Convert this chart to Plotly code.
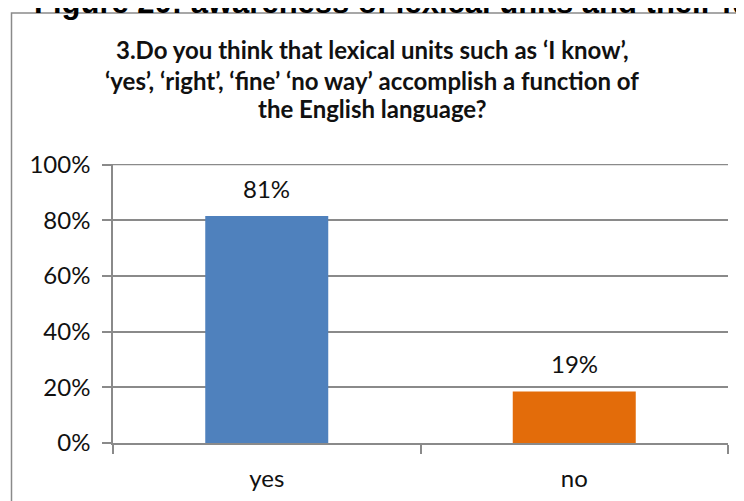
import plotly.graph_objects as go

# survey answers (share of respondents)
answers = ["yes", "no"]
shares = [0.8148, 0.1852]
bar_colors = ["#4F81BD", "#E36C0A"]
y_ticks = [0, 0.2, 0.4, 0.6, 0.8, 1.0]

title_lines = [
    "3.Do you think that lexical units such as ‘I know’,",
    "‘yes’, ‘right’, ‘fine’ ‘no way’ accomplish a function of",
    "the English language?",
]
header = "Figure 20: awareness of lexical units and their function"

# the page body has an 8px margin, so the figure is drawn 8px in from the corner
OFF = 8
W, H = 744 - OFF, 501 - OFF
L, R, T, B = 113 - OFF, 16, 164 - OFF, 58
pw, ph = W - L - R, H - T - B


def px_x(x):
    # page pixel -> paper coordinate
    return (x - OFF - L) / pw


def px_y(y):
    return (H - B - (y - OFF)) / ph


grey = "#8A8A8A"
lab_font = dict(family="Lato", size=24, color="#111111")

fig = go.Figure(go.Bar(x=answers, y=shares, marker_color=bar_colors,
                       marker_line_width=0, showlegend=False))

# data labels sit well above the bars, like in the Excel original
for a, s in zip(answers, shares):
    fig.add_annotation(x=a, y=s, text=f"{s:.0%}", showarrow=False,
                       yanchor="middle", yshift=28, font=lab_font)

for line, yy in zip(title_lines, [50, 80, 108]):
    fig.add_annotation(xref="paper", yref="paper", x=px_x(372), y=px_y(yy),
                       text=f"<b>{line}</b>", showarrow=False, yanchor="middle",
                       font=dict(family="Lato", size=24, color="#111111"))

fig.add_annotation(xref="paper", yref="paper", x=px_x(32), y=px_y(22),
                   xanchor="left", yanchor="bottom", showarrow=False,
                   text=f"<b>{header}</b>",
                   font=dict(family="Liberation Sans", size=31, color="black"))

fig.add_shape(type="rect", xref="paper", yref="paper",
              x0=px_x(11.5), x1=px_x(770), y0=px_y(13), y1=px_y(530),
              line=dict(color=grey, width=1.5), fillcolor="rgba(0,0,0,0)", layer="below")

# plotly drops the gridline sitting on the top edge, so draw the 100% one here
fig.add_shape(type="line", xref="paper", yref="y", x0=0, x1=1,
              y0=y_ticks[-1], y1=y_ticks[-1], line=dict(color=grey, width=1.5),
              layer="below")

fig.update_layout(
    width=W, height=H,
    margin=dict(l=L, r=R, t=T, b=B),
    paper_bgcolor="white", plot_bgcolor="white",
    bargap=0.6,
    font=lab_font,
)
fig.update_xaxes(type="category", showline=True, linecolor=grey, linewidth=1.5,
                 ticks="outside", tickson="boundaries", ticklen=9, tickcolor=grey,
                 tickwidth=1.5, showgrid=False, ticklabelstandoff=13, tickfont=lab_font,
                 automargin=False)
fig.update_yaxes(range=[0, 1.002], tickvals=y_ticks, tickformat=".0%", showline=True,
                 linecolor=grey, linewidth=1.5, ticks="outside", ticklen=9,
                 tickcolor=grey, tickwidth=1.5, showgrid=True, gridcolor=grey,
                 gridwidth=1.5, zeroline=False, ticklabelstandoff=7, tickfont=lab_font,
                 automargin=False)

fig.write_html("out.html")
